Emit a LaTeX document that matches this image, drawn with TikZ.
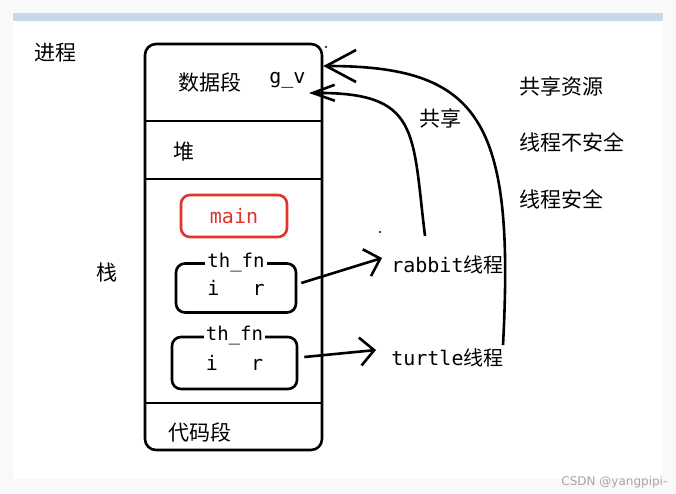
\documentclass[tikz,border=0pt]{standalone}
\usepackage{fontspec}
\setmainfont{DejaVu Sans}
\setmonofont{DejaVu Sans Mono}
\newfontfamily\cjk{Noto Sans CJK SC}
\usetikzlibrary{positioning,arrows.meta}
\definecolor{bar}{HTML}{C9D7EA}
\definecolor{mainred}{HTML}{E0352B}

\begin{document}
\begin{tikzpicture}[x=1pt,y=-1pt,line width=2.6pt,
    zh/.style={font=\cjk\fontsize{21}{24}\selectfont,inner sep=0pt},
    code/.style={font=\ttfamily\fontsize{20}{24}\selectfont,inner sep=0pt},
    frame/.style={draw,rounded corners=9pt,inner sep=0pt},
    barb/.style={-{Straight Barb[length=14pt,width=28pt]}},
    bigbarb/.style={-{Straight Barb[length=30pt,width=32pt]}},
    smallbarb/.style={-{Straight Barb[length=22pt,width=16pt]}}]
\useasboundingbox (0,0) rectangle (676,493);
\fill[gray!5] (0,0) rectangle (676,493);
\fill[white] (13,13) rectangle (663,479);
\fill[bar] (13,13) rectangle (663,21);

\node[frame,rounded corners=11pt,minimum width=177pt,minimum height=406pt] (proc) at (233.5,247) {};
\draw (proc.west |- 0,121) -- (proc.east |- 0,121);
\draw (proc.west |- 0,179) -- (proc.east |- 0,179);
\draw (proc.west |- 0,403) -- (proc.east |- 0,403);

\node[zh] (jc) at (55,53) {进程};
\node[zh,anchor=west] (seg) at (177,82) {数据段};
\node[code,anchor=west] (gv) at (268,80) {g\_v};
\node[zh] (heap) at (184,152) {堆};
\node[zh] (stack) at (107,273) {栈};
\node[zh] (text) at (200,432) {代码段};

\node[frame,draw=mainred,text=mainred,code,minimum width=106pt,minimum height=42pt] (main) at (234,216) {main};

\node[frame,code,minimum width=120pt,minimum height=49pt] (thA) at (236,288) {i\hspace{33pt}r};
\node[code,fill=white,inner sep=2pt,font=\ttfamily\fontsize{19}{22}\selectfont] (thAl) at (thA.north) {th\_fn};
\node[frame,code,minimum width=125pt,minimum height=52pt] (thB) at (234.5,363) {i\hspace{33pt}r};
\node[code,fill=white,inner sep=2pt,font=\ttfamily\fontsize{19}{22}\selectfont] (thBl) at (thB.north) {th\_fn};

\node[code,anchor=west] (rabbit) at (390,265) {rabbit{\cjk 线程}};
\node[code,anchor=west] (turtle) at (390,358) {turtle{\cjk 线程}};

\draw[barb] ([xshift=4pt,yshift=5pt]thA.east) -- ([xshift=-8pt,yshift=7pt]rabbit.west);
\draw[barb] ([xshift=6pt,yshift=6pt]thB.east) -- ([xshift=-14pt,yshift=8pt]turtle.west);

\coordinate (outS) at (503,345);
\coordinate (inS) at (425,236);
\coordinate (inE) at (309,93);
\draw[bigbarb] (outS) .. controls (515,120) and (480,66) .. (proc.east |- 0,66);
\draw[smallbarb] (inS) .. controls (412,130) and (420,92) .. (inE);

\node[zh] (share) at (440,118) {共享};
\node[zh,anchor=west] (res) at (518,86) {共享资源};
\node[zh,anchor=west] (unsafe) at (518,142) {线程不安全};
\node[zh,anchor=west] (safe) at (518,199) {线程安全};

\fill (326,47) circle (1.2pt);
\fill (380,232) circle (1.2pt);

\node[font=\fontsize{12}{14}\selectfont,text=gray!70,anchor=east] (mark) at (672,482) {CSDN @yangpipi-};
\end{tikzpicture}
\end{document}
